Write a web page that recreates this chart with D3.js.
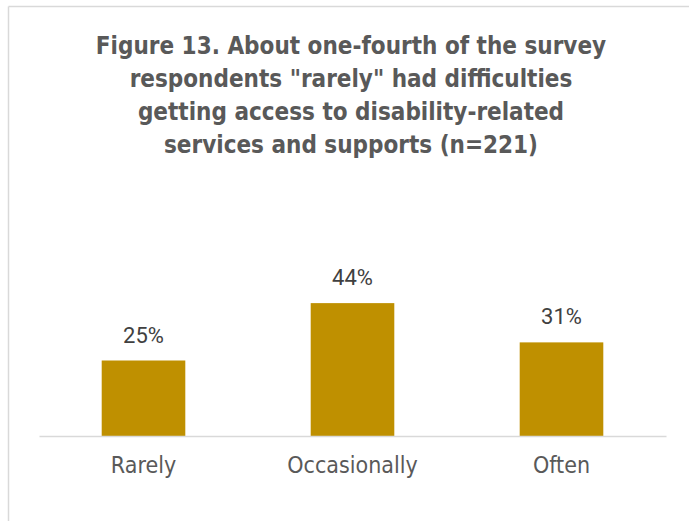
<!DOCTYPE html>
<html lang="en">
<head>
    <meta charset="UTF-8">
    <script src="https://d3js.org/d3.v7.min.js"></script>
    <style>
        body { margin: 0; background: #fff; }
        text { font-family: "DejaVu Sans Condensed", Arial, sans-serif; }
    </style>
</head>
<body>
    <svg id="chart" width="689" height="521"></svg>
    <script>
        const categories = ["Rarely", "Occasionally", "Often"];
        const values = [25, 44, 31];
        const titleLines = [
            "Figure 13. About one-fourth of the survey",
            "respondents \"rarely\" had difficulties",
            "getting access to disability-related",
            "services and supports (n=221)"
        ];

        const width = 689, height = 521;
        const margin = { top: 30, right: 23, bottom: 85, left: 39 };
        const baseY = 436;

        const svg = d3.select("#chart")
            .attr("width", width)
            .attr("height", height);

        // frame (top + left edge only visible)
        svg.append("line")
            .attr("x1", 8.5).attr("x2", width).attr("y1", 6.5).attr("y2", 6.5)
            .attr("stroke", "#d9d9d9").attr("stroke-width", 1.5);
        svg.append("line")
            .attr("x1", 8.5).attr("x2", 8.5).attr("y1", 6.5).attr("y2", height)
            .attr("stroke", "#d9d9d9").attr("stroke-width", 1.5);

        svg.append("g")
            .selectAll("text")
            .data(titleLines)
            .enter().append("text")
            .attr("x", 351)
            .attr("y", (d, i) => 54 + i * 33)
            .attr("text-anchor", "middle")
            .style("font-size", "24px")
            .style("font-weight", "bold")
            .attr("fill", "#595959")
            .text(d => d);

        const x = d3.scaleBand()
            .domain(categories)
            .range([margin.left, width - margin.right])
            .paddingInner(0.6)
            .paddingOuter(0.3);

        const y = d3.scaleLinear()
            .domain([0, 50])
            .range([baseY, baseY - 151]);

        svg.selectAll(".bar")
            .data(values)
            .enter().append("rect")
            .attr("class", "bar")
            .attr("x", (d, i) => x(categories[i]))
            .attr("y", d => y(d))
            .attr("width", x.bandwidth())
            .attr("height", d => baseY - y(d))
            .attr("fill", "#bf9000");

        const xAxis = svg.append("g")
            .attr("transform", `translate(0,${baseY})`)
            .call(d3.axisBottom(x).tickSize(0).tickPadding(20));
        xAxis.select(".domain").attr("stroke", "#d9d9d9").attr("stroke-width", 1.5);
        xAxis.selectAll("text")
            .attr("dy", null)
            .attr("y", 37)
            .style("font-family", "'DejaVu Sans Condensed', Arial, sans-serif")
            .style("font-size", "23px")
            .attr("fill", "#595959");

        svg.selectAll(".label")
            .data(values)
            .enter().append("text")
            .attr("class", "label")
            .attr("x", (d, i) => x(categories[i]) + x.bandwidth() / 2)
            .attr("y", d => y(d) - 18)
            .attr("text-anchor", "middle")
            .style("font-family", "Roboto, Arial, sans-serif")
            .style("font-size", "22px")
            .attr("fill", "#404040")
            .text(d => `${d}%`);
    </script>
</body>
</html>
